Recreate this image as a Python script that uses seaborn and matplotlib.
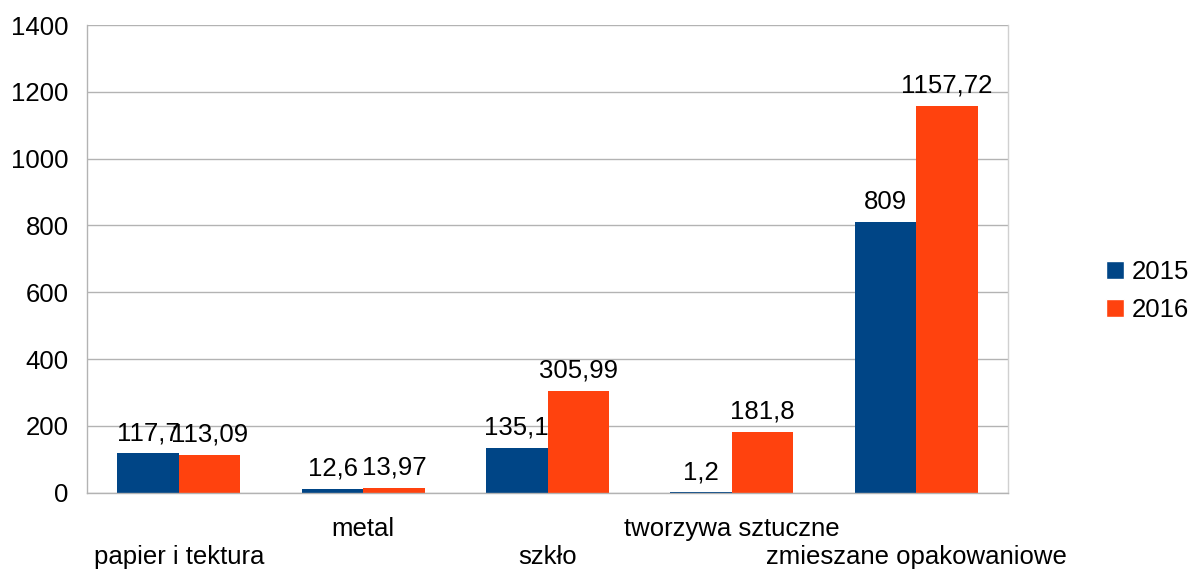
import pandas as pd
import matplotlib.pyplot as plt
import seaborn as sns
from matplotlib.patches import Patch

# data
categories = ["papier i tektura", "metal", "szkło", "tworzywa sztuczne", "zmieszane opakowaniowe"]
years = ["2015", "2016"]
values_2015 = [117.7, 12.6, 135.1, 1.2, 809]
values_2016 = [113.09, 13.97, 305.99, 181.8, 1157.72]
colors = ["#004586", "#ff420e"]

df = pd.DataFrame({
    "kategoria": categories * 2,
    "rok": [years[0]] * len(categories) + [years[1]] * len(categories),
    "wartosc": values_2015 + values_2016,
})

sns.set_style("white")
plt.rcParams["font.family"] = ["Liberation Sans", "DejaVu Sans"]
plt.rcParams["text.color"] = "black"
plt.rcParams["xtick.color"] = "black"
plt.rcParams["ytick.color"] = "black"
FS = 18.5

fig, ax = plt.subplots(figsize=(11.89, 5.69), dpi=100)
fig.subplots_adjust(left=0.073, right=0.848, top=0.956, bottom=0.134)

sns.barplot(data=df, x="kategoria", y="wartosc", hue="rok", palette=colors,
            width=0.667, gap=0, saturation=1, legend=False, linewidth=0, ax=ax)

def fmt(v):
    return f"{v:g}".replace(".", ",")

for cont, vals in zip(ax.containers, [values_2015, values_2016]):
    ax.bar_label(cont, labels=[fmt(v) for v in vals], padding=6, fontsize=FS, color="black")

ax.set_ylim(0, 1400)
ax.set_yticks(range(0, 1401, 200))
ax.set_xlim(-0.5, len(categories) - 0.5)
ax.yaxis.grid(True, color="#b3b3b3", linewidth=1)
ax.set_axisbelow(True)

# staggered category labels (upper row for odd index, lower row for even)
ax.set_xticks(range(len(categories)))
ax.set_xticklabels([])
ax.tick_params(axis="x", which="major", length=0)
for i, c in enumerate(categories):
    dy = -24 if i % 2 == 1 else -52
    ax.annotate(c, xy=(i, 0), xycoords=("data", "axes fraction"),
                xytext=(0, dy), textcoords="offset pixels",
                ha="center", va="top", fontsize=FS, color="black")

ax.set_xticks([i - 0.5 for i in range(len(categories) + 1)], minor=True)
ax.tick_params(axis="x", which="minor", length=9, width=1, color="#b3b3b3", direction="out")
ax.tick_params(axis="y", length=7, width=1, color="#b3b3b3", labelcolor="black",
               direction="out", pad=6, labelsize=FS)

ax.set_xlabel("")
ax.set_ylabel("")
for side in ["left", "bottom"]:
    ax.spines[side].set_color("#b3b3b3")
    ax.spines[side].set_linewidth(1)
ax.spines["top"].set_visible(False)
ax.spines["right"].set_color("#d0d0d0")
ax.spines["right"].set_linewidth(1)

handles = [Patch(facecolor=c, label=y) for c, y in zip(colors, years)]
fig.legend(handles=handles, loc="center left", bbox_to_anchor=(0.930, 0.489),
           frameon=False, fontsize=FS, handlelength=0.7, handleheight=0.7,
           handletextpad=0.3, labelspacing=0.55, borderpad=0, borderaxespad=0)

plt.savefig("out.png", dpi=100)
